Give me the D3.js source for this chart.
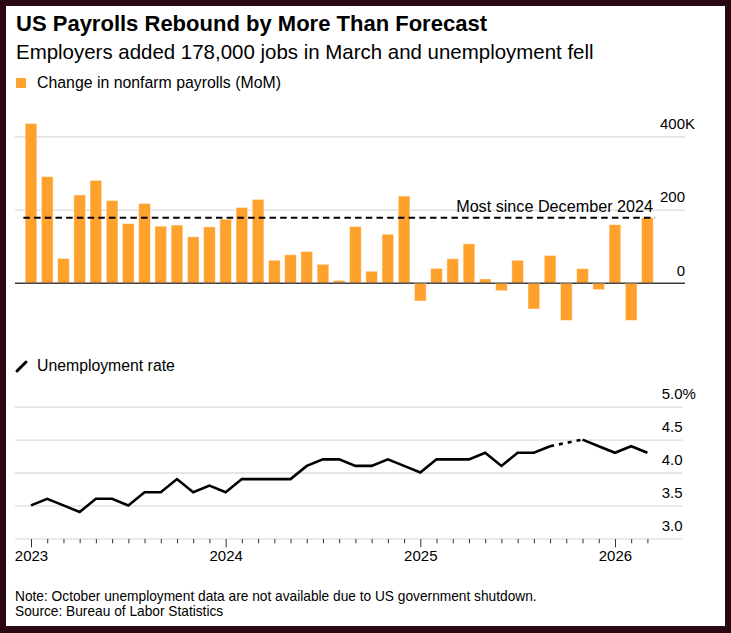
<!DOCTYPE html>
<html>
<head>
<meta charset="utf-8">
<script src="https://cdn.jsdelivr.net/npm/d3@7"></script>
<style>
  html, body { margin: 0; padding: 0; background: #2a0712; }
  svg { display: block; }
  text { font-family: "Liberation Sans", Arial, sans-serif; fill: #000; }
</style>
</head>
<body>
<svg id="chart" width="731" height="633"></svg>
<script>
// ---------- DATA ----------
const months = ["2023-01","2023-02","2023-03","2023-04","2023-05","2023-06","2023-07","2023-08","2023-09","2023-10","2023-11","2023-12",
                "2024-01","2024-02","2024-03","2024-04","2024-05","2024-06","2024-07","2024-08","2024-09","2024-10","2024-11","2024-12",
                "2025-01","2025-02","2025-03","2025-04","2025-05","2025-06","2025-07","2025-08","2025-09","2025-10","2025-11","2025-12",
                "2026-01","2026-02","2026-03"];
// Change in nonfarm payrolls, thousands (MoM)
const payrolls = [435, 290, 67, 240, 280, 225, 162, 217, 155, 158, 126, 153,
                  174, 206, 228, 62, 77, 86, 51, 7, 154, 32, 133, 237,
                  -49, 40, 66, 107, 11, -21, 62, -71, 75, -102, 39, -18,
                  159, -102, 178];
// Unemployment rate, % (October 2025 not available)
const unemployment = [3.5, 3.6, 3.5, 3.4, 3.6, 3.6, 3.5, 3.7, 3.7, 3.9, 3.7, 3.8,
                      3.7, 3.9, 3.9, 3.9, 3.9, 4.1, 4.2, 4.2, 4.1, 4.1, 4.2, 4.1,
                      4.0, 4.2, 4.2, 4.2, 4.3, 4.1, 4.3, 4.3, 4.4, null, 4.5, 4.4,
                      4.3, 4.4, 4.3];
const payrollTicks = [0, 200, 400];
const payrollTickSuffix = ["", "", "K"];
const rateTicks = [3.0, 3.5, 4.0, 4.5, 5.0];
const rateTickSuffix = ["", "", "", "", "%"];
const referenceValue = 178;
const referenceLabel = "Most since December 2024";
const title = "US Payrolls Rebound by More Than Forecast";
const subtitle = "Employers added 178,000 jobs in March and unemployment fell";
const legendBars = "Change in nonfarm payrolls (MoM)";
const legendLine = "Unemployment rate";
const note = "Note: October unemployment data are not available due to US government shutdown.";
const source = "Source: Bureau of Labor Statistics";

// ---------- LAYOUT ----------
const W = 731, H = 633;
const ORANGE = "#ffa12d";
const svg = d3.select("#chart");
svg.append("rect").attr("width", W).attr("height", H).attr("fill", "#2a0712");
svg.append("rect").attr("x", 6).attr("y", 6).attr("width", 719).attr("height", 620).attr("fill", "#fff");

function fit(sel, w) {
  const cur = sel.node().getComputedTextLength();
  const fs = parseFloat(sel.attr("font-size"));
  sel.attr("font-size", (fs * w / cur).toFixed(2));
}

// Titles
fit(svg.append("text").attr("x", 16).attr("y", 31).attr("font-size", 20).attr("font-weight", "bold").text(title), 471);
fit(svg.append("text").attr("x", 16).attr("y", 59).attr("font-size", 19).text(subtitle), 578);

// Legend: bars
svg.append("rect").attr("x", 16).attr("y", 78).attr("width", 10).attr("height", 10).attr("rx", 1).attr("fill", ORANGE);
fit(svg.append("text").attr("x", 37).attr("y", 87.5).attr("font-size", 15).text(legendBars), 244);

// Scales
const gridLeft = 15, gridRightTop = 685, gridRightBottom = 682.5;
const x = d3.scalePoint().domain(months).range([31, 647.4]);
const step = x.step();
const barW = step * 0.72;
const y1 = d3.scaleLinear().domain([0, 400]).range([283, 136.3]);
const y2 = d3.scaleLinear().domain([3, 5]).range([538.3, 406.7]);

// ---------- TOP: payroll bars ----------
const gTopAxis = svg.append("g").attr("transform", `translate(${gridRightTop},0)`)
  .call(d3.axisRight(y1).tickValues(payrollTicks).tickSize(-(gridRightTop - gridLeft)).tickFormat(d3.format("d")));
gTopAxis.select(".domain").remove();
gTopAxis.selectAll(".tick line").attr("stroke", d => d === 0 ? "#3a3a3a" : "#dcdcdc").attr("stroke-width", d => d === 0 ? 1.2 : 1.3);
gTopAxis.selectAll(".tick text").attr("x", 0).attr("dy", -8).attr("text-anchor", "end")
  .attr("font-size", 15).attr("fill", "#000");
gTopAxis.selectAll(".tick").append("text").attr("x", 0).attr("dy", -8).attr("text-anchor", "start")
  .attr("font-size", 15).attr("fill", "#000").text(d => payrollTickSuffix[payrollTicks.indexOf(d)]);

svg.append("g").selectAll("rect").data(payrolls).join("rect")
  .attr("x", (d, i) => x(months[i]) - barW / 2)
  .attr("width", barW)
  .attr("y", d => y1(Math.max(0, d)))
  .attr("height", d => Math.abs(y1(d) - y1(0)))
  .attr("fill", ORANGE)
  .attr("stroke", "#fff").attr("stroke-opacity", 0.55).attr("stroke-width", 0.8);

// redraw zero line on top of bars
svg.append("line").attr("x1", gridLeft).attr("x2", gridRightTop).attr("y1", y1(0)).attr("y2", y1(0))
  .attr("stroke", "#3a3a3a").attr("stroke-width", 1.2);

// reference dashed line
const refX1 = x(months[0]) - step * 0.47, refX2 = x(months[months.length - 1]) + step * 0.47;
svg.append("line").attr("x1", refX1).attr("x2", refX2).attr("y1", y1(referenceValue)).attr("y2", y1(referenceValue))
  .attr("stroke", "#000").attr("stroke-width", 2).attr("stroke-dasharray", "6.5,4.2");
fit(svg.append("text").attr("x", refX2 - 2).attr("y", y1(referenceValue) - 5.5).attr("text-anchor", "end")
  .attr("font-size", 16).text(referenceLabel), 197);

// ---------- BOTTOM: unemployment line ----------
svg.append("line").attr("x1", 17).attr("y1", 371).attr("x2", 26).attr("y2", 362)
  .attr("stroke", "#000").attr("stroke-width", 3).attr("stroke-linecap", "round");
fit(svg.append("text").attr("x", 37).attr("y", 370.7).attr("font-size", 15).text(legendLine), 138);

const gBotAxis = svg.append("g").attr("transform", `translate(${gridRightBottom},0)`)
  .call(d3.axisRight(y2).tickValues(rateTicks).tickSize(-(gridRightBottom - gridLeft)).tickFormat(d3.format(".1f")));
gBotAxis.select(".domain").remove();
gBotAxis.selectAll(".tick line").attr("stroke", "#dcdcdc").attr("stroke-width", 1.3);
gBotAxis.selectAll(".tick text").attr("x", 0).attr("dy", -8).attr("text-anchor", "end")
  .attr("font-size", 15).attr("fill", "#000");
gBotAxis.selectAll(".tick").append("text").attr("x", 0).attr("dy", -8).attr("text-anchor", "start")
  .attr("font-size", 15).attr("fill", "#000").text(d => rateTickSuffix[rateTicks.indexOf(d)]);

// x axis (months, years labelled)
const gX = svg.append("g").attr("transform", `translate(0,${y2(3)})`)
  .call(d3.axisBottom(x).tickSize(5).tickFormat(m => m.endsWith("-01") ? m.slice(0, 4) : ""));
gX.select(".domain").remove();
gX.selectAll(".tick line").attr("stroke", "#333").attr("stroke-width", 1).attr("y1", 0.7)
  .attr("y2", m => m.endsWith("-01") ? 9 : 5);
gX.selectAll(".tick text").attr("y", 23).attr("dy", 0).attr("font-size", 15).attr("fill", "#000");

// line with gap + dotted bridge
const pts = unemployment.map((v, i) => ({ m: months[i], v }));
const line = d3.line().defined(d => d.v != null).x(d => x(d.m)).y(d => y2(d.v));
const bridges = [];
pts.forEach((d, i) => {
  if (d.v == null) {
    let a = i - 1, b = i + 1;
    while (a >= 0 && pts[a].v == null) a--;
    while (b < pts.length && pts[b].v == null) b++;
    if (a >= 0 && b < pts.length) bridges.push([pts[a], pts[b]]);
  }
});
svg.append("g").selectAll("path").data(bridges).join("path")
  .attr("d", d => d3.line().x(p => x(p.m)).y(p => y2(p.v))(d))
  .attr("fill", "none").attr("stroke", "#000").attr("stroke-width", 2.6).attr("stroke-dasharray", "4,5");
svg.append("path").datum(pts).attr("d", line)
  .attr("fill", "none").attr("stroke", "#000").attr("stroke-width", 2.6).attr("stroke-linejoin", "miter");

// ---------- Footer ----------
const noteText = svg.append("text").attr("x", 15).attr("y", 600.5).attr("font-size", 13).text(note);
fit(noteText, 522);
const srcText = svg.append("text").attr("x", 15).attr("y", 615.5).attr("font-size", noteText.attr("font-size")).text(source);
</script>
</body>
</html>
